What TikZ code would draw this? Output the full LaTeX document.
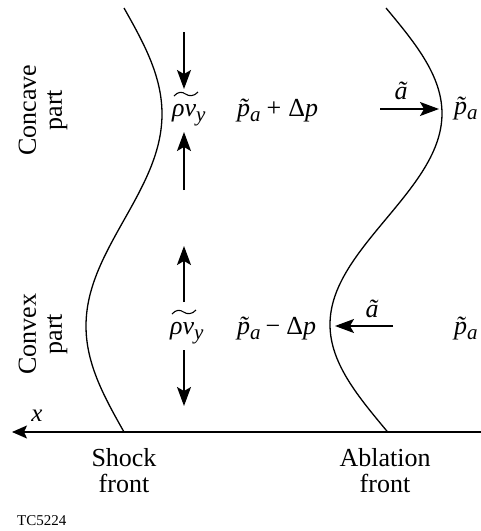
\documentclass[tikz,border=0pt]{standalone}
\usepackage{fontspec}
\setmainfont{Liberation Serif}
\usetikzlibrary{arrows.meta}
\newcommand{\sbs}[1]{\raisebox{-5pt}{\fontsize{21}{21}\selectfont\itshape #1}}
\newcommand{\pta}{{\itshape\~p}\sbs{a}}
\newcommand{\rvy}{{\itshape ρv}\sbs{y}}
\tikzset{
  lbl/.style={inner sep=0pt, font=\fontsize{26}{26}\selectfont},
  front/.style={line width=1.3pt},
  tildeline/.style={line width=1.1pt},
  axisline/.style={line width=1.5pt, -{Stealth[length=15pt, width=13pt, inset=3pt]}},
  flow/.style={line width=1.3pt, -{Stealth[length=19pt, width=14pt, inset=4pt]}}
}
\begin{document}
\begin{tikzpicture}[x=1pt, y=-1pt]
\useasboundingbox (0,0) rectangle (481,531);
% fronts
\draw[front] plot[domain=8:432, samples=120, variable=\t] ({124+38*sin((\t-8)*0.849057)}, \t);
\draw[front] plot[domain=8:432, samples=120, variable=\t] ({386+56*sin((\t-8)*0.853081)}, \t);
% axis
\coordinate (axR) at (481,432);
\coordinate (axL) at (12,432);
\draw[axisline] (axR) -- (axL);
\node[lbl, font=\fontsize{25}{25}\selectfont\itshape] (xl) at (37,416) {x};
% vertical flow arrows
\coordinate (v1a) at (184,32);  \coordinate (v1b) at (184,89);
\coordinate (v2a) at (184,190); \coordinate (v2b) at (184,132);
\coordinate (v3a) at (184,302); \coordinate (v3b) at (184,246);
\coordinate (v4a) at (184,350); \coordinate (v4b) at (184,406);
\draw[flow] (v1a) -- (v1b);
\draw[flow] (v2a) -- (v2b);
\draw[flow] (v3a) -- (v3b);
\draw[flow] (v4a) -- (v4b);
% labels top row
\node[lbl, anchor=base west] (rv1) at (172,116) {\rvy};
\node[lbl, anchor=base west] (pd1) at (237,116) {\pta\hspace{6pt}+\hspace{7pt}Δ{\itshape p}};
\node[lbl, anchor=base west] (pr1) at (454,114) {\pta};
\coordinate (a1s) at (380,109);
\coordinate (a1e) at (439,109);
\draw[flow] (a1s) -- (a1e);
\node[lbl, anchor=base, font=\fontsize{26}{26}\selectfont\itshape] (at1) at (401,99) {ã};
% labels bottom row
\node[lbl, anchor=base west] (rv2) at (170,334) {\rvy};
\node[lbl, anchor=base west] (pd2) at (237,334) {\pta\hspace{5pt}−\hspace{6pt}Δ{\itshape p}};
\node[lbl, anchor=base west] (pr2) at (454,334) {\pta};
\coordinate (a2s) at (393,326);
\coordinate (a2e) at (335,326);
\draw[flow] (a2s) -- (a2e);
\node[lbl, anchor=base, font=\fontsize{26}{26}\selectfont\itshape] (at2) at (372,317) {ã};
% wide tildes over rho v
\foreach \n in {rv1,rv2}{
  \begin{scope}[shift={(\n.base west)}]
    \draw[tildeline] (2,-20) .. controls (6,-24.5) and (10,-24.5) .. (13.5,-22)
                             .. controls (17,-19.5) and (22,-19.5) .. (26,-24);
  \end{scope}
}
% side labels
\node[lbl, rotate=90, align=center] (cc) at (43,110) {Concave\\part};
\node[lbl, rotate=90, align=center] (cv) at (43,334) {Convex\\part};
% bottom labels
\node[lbl, align=center, anchor=north] (sf) at (124,448) {Shock\\front};
\node[lbl, align=center, anchor=north] (af) at (385,448) {Ablation\\front};
\node[inner sep=0pt, anchor=base west, font=\fontsize{15}{15}\selectfont] (tc) at (17,525) {TC5224};
\end{tikzpicture}
\end{document}
